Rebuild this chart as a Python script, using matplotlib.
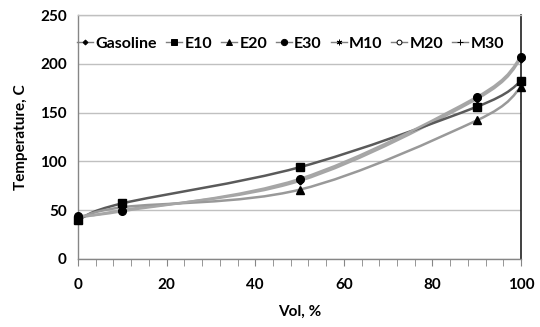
import numpy as np
import matplotlib
matplotlib.use("Agg")
import matplotlib.pyplot as plt
from matplotlib.path import Path
from matplotlib.patches import PathPatch
from matplotlib.lines import Line2D

plt.rcParams['font.family'] = ['Lato', 'DejaVu Sans']
plt.rcParams['font.weight'] = 'bold'

vol = [0, 10, 50, 90, 100]
gasoline = [42, 50, 80, 164, 205]
e10 = [40, 57, 94, 156, 182]
e20 = [41, 53, 71, 142, 176]
e30 = [44, 49, 82, 166, 207]
m10 = []
m20 = []
m30 = []

series_names = ["Gasoline", "E10", "E20", "E30", "M10", "M20", "M30"]
series_vals = [gasoline, e10, e20, e30, m10, m20, m30]
markers = ["D", "s", "^", "o", (6, 2, 0), "o", "+"]
msizes = [3.5, 5.5, 5.5, 5.5, 5, 4.5, 6]
mfaces = ["black", "black", "black", "black", "black", "white", "black"]
lcolors = ["#a6a6a6", "#5a5a5a", "#999999", "#a6a6a6", "#a6a6a6", "#a6a6a6", "#a6a6a6"]

fig = plt.figure(figsize=(5.4, 3.27), dpi=100)
ax = fig.add_axes([0.1444, 0.208, 0.8206, 0.746])


def smooth_path(x, y):
    x = np.asarray(x, float)
    y = np.asarray(y, float)
    n = len(x)
    verts = [(x[0], y[0])]
    codes = [Path.MOVETO]
    for i in range(n - 1):
        p0 = np.array([x[max(i - 1, 0)], y[max(i - 1, 0)]])
        p1 = np.array([x[i], y[i]])
        p2 = np.array([x[i + 1], y[i + 1]])
        p3 = np.array([x[min(i + 2, n - 1)], y[min(i + 2, n - 1)]])
        c1 = p1 + (p2 - p0) / 6.0
        c2 = p2 - (p3 - p1) / 6.0
        verts += [tuple(c1), tuple(c2), tuple(p2)]
        codes += [Path.CURVE4] * 3
    return Path(verts, codes)


handles = []
for name, vals, mk, ms, mf, lc in zip(series_names, series_vals, markers, msizes, mfaces, lcolors):
    if len(vals):
        patch = PathPatch(smooth_path(vol[:len(vals)], vals), facecolor='none',
                          edgecolor=lc, lw=1.8, zorder=3)
        ax.add_patch(patch)
        ax.plot(vol[:len(vals)], vals, ls='none', marker=mk, ms=ms,
                mfc=mf, mec='black', mew=1.0, zorder=4, clip_on=False)
    h = Line2D([], [], color='#7f7f7f', lw=1.0, marker=mk, ms=ms - 1,
               mfc=mf, mec='black', mew=0.7)
    handles.append(h)

ax.set_xlim(0, 100)
ax.set_ylim(0, 250)
ax.set_xticks(np.arange(0, 101, 20))
ax.set_xticks(np.arange(0, 101, 4), minor=True)
ax.set_yticks(np.arange(0, 251, 50))
ax.tick_params(axis='x', which='both', direction='out', length=5, color='#868686',
               labelsize=11, pad=9)
ax.tick_params(axis='y', which='both', length=0, labelsize=11, pad=8)
for lab in ax.get_xticklabels() + ax.get_yticklabels():
    lab.set_fontweight('bold')

ax.grid(axis='y', color='#c0c0c0', lw=1.0)
ax.set_axisbelow(True)
for s in ['left', 'bottom', 'top']:
    ax.spines[s].set_color('#868686')
    ax.spines[s].set_linewidth(1.0)
ax.spines['top'].set_color('#c0c0c0')
ax.spines['right'].set_color('#202020')
ax.spines['right'].set_linewidth(1.2)

ax.set_xlabel("Vol, %", fontsize=11, fontweight='bold', labelpad=9)
ax.set_ylabel("Temperature, C", fontsize=11, fontweight='bold', labelpad=9)

leg = ax.legend(handles, series_names, loc='upper center', bbox_to_anchor=(0.48, 0.95),
                ncol=7, frameon=False, fontsize=11.5, handlelength=1.0,
                handletextpad=0.15, columnspacing=0.55, borderaxespad=0.2)
for t in leg.get_texts():
    t.set_fontweight('bold')

fig.savefig("out.png", dpi=100)
